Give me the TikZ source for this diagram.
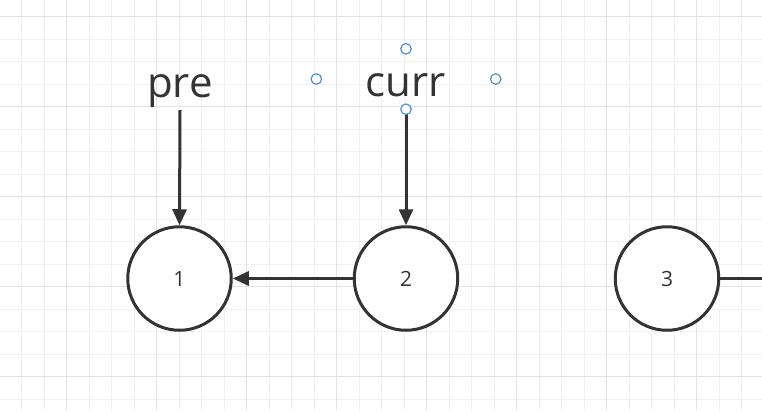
\documentclass[tikz,border=0pt]{standalone}
\usepackage{fontspec}
\setmainfont{Open Sans}
\usetikzlibrary{arrows.meta}
\definecolor{ink}{HTML}{333333}
\definecolor{gridminor}{HTML}{F1F1F1}
\definecolor{gridmajor}{HTML}{E3E3E3}
\definecolor{handle}{HTML}{4A90E2}
\tikzset{
  listnode/.style={circle, draw=ink, fill=white, line width=3pt, minimum size=103.5pt, inner sep=0pt,
    font=\fontsize{21}{21}\selectfont, text=ink},
  ptrlabel/.style={draw=none, minimum width=179pt, minimum height=60pt, inner sep=0pt,
    font=\fontsize{42}{42}\selectfont, text=ink, text height=44pt, text depth=10pt},
  arr/.style={draw=ink, line width=3pt, -{Triangle[length=16pt, width=14pt]}},
  plainline/.style={draw=ink, line width=3pt},
  handledot/.style={circle, draw=handle, fill=white, line width=1.2pt, minimum size=10.5pt, inner sep=0pt},
}
\begin{document}
\begin{tikzpicture}[x=1pt, y=-1pt]
\useasboundingbox (0,0) rectangle (762,410);
\fill[white] (0,0) rectangle (762,410);
\begin{scope}
\clip (0,0) rectangle (762,410);
% minor grid
\foreach \i in {0,...,34} {
  \draw[gridminor, line width=1pt] ({-0.8+22.5*\i},0) -- ({-0.8+22.5*\i},410);
}
\foreach \j in {0,...,19} {
  \draw[gridminor, line width=1pt] (0,{-5.8+22.5*\j}) -- (762,{-5.8+22.5*\j});
}
% major grid
\foreach \i in {0,...,8} {
  \draw[gridmajor, line width=1pt] ({66.7+90*\i},0) -- ({66.7+90*\i},410);
}
\foreach \j in {0,...,4} {
  \draw[gridmajor, line width=1pt] (0,{16.7+90*\j}) -- (762,{16.7+90*\j});
}
\end{scope}

\node[listnode] (n1) at (179.5,278.5) {1};
\node[listnode] (n2) at (406,278.5) {2};
\node[listnode] (n3) at (667,278.5) {3};

\node[ptrlabel] (pre) at (180,80) {pre};
\node[ptrlabel] (curr) at (406,79) {curr};

\coordinate (offright) at (762,278.5);

\draw[arr] (pre.south) -- (n1.north);
\draw[arr] (curr.south) -- (n2.north);
\draw[arr] (n2.west) -- (n1.east);
\draw[plainline] (n3.east) -- (offright);

\node[handledot] (h1) at (curr.west) {};
\node[handledot] (h2) at (curr.north) {};
\node[handledot] (h3) at (curr.east) {};
\node[handledot] (h4) at (curr.south) {};
\end{tikzpicture}
\end{document}
